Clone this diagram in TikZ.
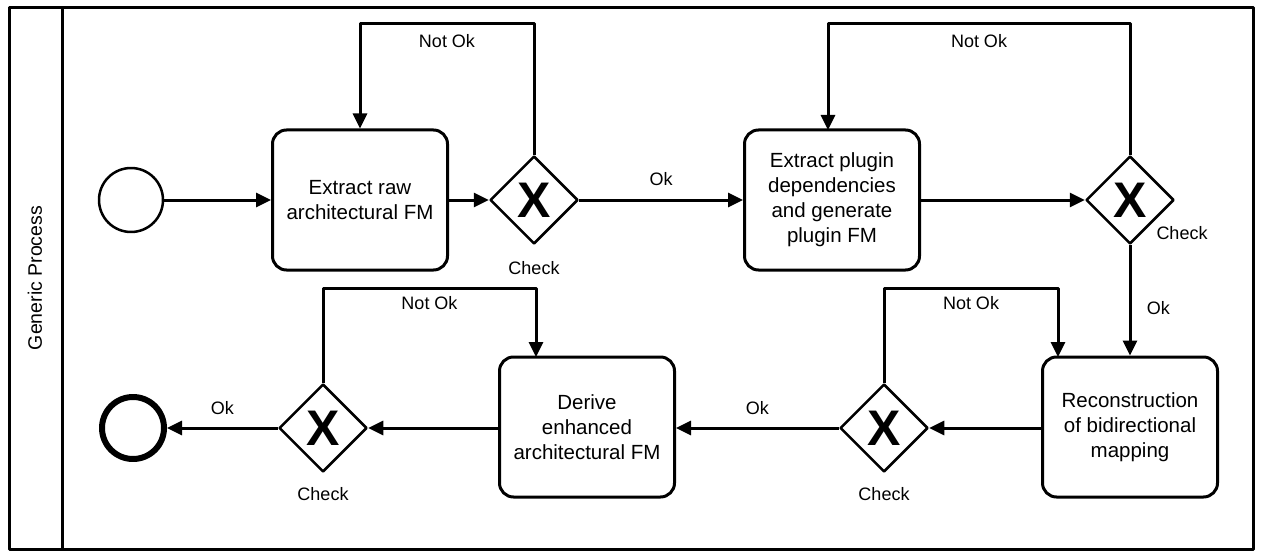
\documentclass[tikz,border=0pt]{standalone}
\usepackage{fontspec}
\setmainfont{Liberation Sans}
\usetikzlibrary{shapes.geometric,arrows.meta}
\begin{document}
\begin{tikzpicture}[x=1pt,y=-1pt,line join=round,
	flow/.style={line width=3pt,-{Triangle[length=15pt,width=14pt]}},
	task/.style={draw,line width=3pt,rounded corners=14pt,minimum width=175pt,minimum height=140pt,align=center,font=\fontsize{20.5}{25}\selectfont},
	gate/.style={draw,diamond,line width=2.5pt,minimum width=88pt,minimum height=88pt,inner sep=0pt,font=\fontsize{50}{50}\selectfont\bfseries},
	event/.style={draw,circle,line width=2.5pt,minimum size=64pt,inner sep=0pt},
	lbl/.style={font=\fontsize{18}{20}\selectfont}]
	\useasboundingbox (0,0) rectangle (1264,559);
	% pool
	\draw[line width=3pt] (9,8) rectangle (1253,549);
	\draw[line width=3pt] (62,8)--(62,549);
	\node[rotate=90,font=\fontsize{19.5}{20}\selectfont] (pool) at (35,278) {Generic Process};
	% events, tasks, gateways
	\node[event] (start) at (131,200) {};
	\node[task] (raw) at (360,200) {Extract raw\\architectural FM};
	\node[gate] (g1) at (534,200) {X};
	\node[task] (plug) at (832,200) {Extract plugin\\dependencies\\and generate\\plugin FM};
	\node[gate] (g2) at (1130,200) {X};
	\node[task] (rec) at (1130,427) {Reconstruction\\of bidirectional\\mapping};
	\node[gate] (g3) at (884,428) {X};
	\node[task] (der) at (587,427) {Derive\\enhanced\\architectural FM};
	\node[gate] (g4) at (323,428) {X};
	\node[event,line width=6pt,minimum size=62pt] (stop) at (133,428) {};
	% labels
	\node[lbl] (c1) at (534,268) {Check};
	\node[lbl] (c2) at (1182,233) {Check};
	\node[lbl] (c3) at (884,494) {Check};
	\node[lbl] (c4) at (323,494) {Check};
	% sequence flows
	\draw[flow] (start)--(raw);
	\draw[flow] (raw)--(g1);
	\draw[flow] (g1)--node[lbl,above=9pt]{Ok}(plug);
	\draw[flow] (plug)--(g2);
	\draw[flow] (g2)--node[lbl,right=12pt,pos=.57]{Ok}(rec);
	\draw[flow] (rec.west|-g3)--(g3);
	\draw[flow] (g3)--node[lbl,above=8pt]{Ok}(der.east|-g3);
	\draw[flow] (der.west|-g4)--(g4);
	\draw[flow] (g4)--node[lbl,above=8pt]{Ok}(stop);
	% loops back
	\draw[flow] (g1.north)--(534,24)--node[lbl,below=6pt,pos=.5]{Not Ok}(360,24)--(raw.north);
	\draw[flow] (g2.north)--(1130,24)--node[lbl,below=6pt]{Not Ok}(828,24)--(828,130);
	\draw[flow] (g3.north)--(884,288)--node[lbl,below=4pt]{Not Ok}(1058,288)--(1058,357);
	\draw[flow] (g4.north)--(323,288)--node[lbl,below=4pt]{Not Ok}(536,288)--(536,357);
\end{tikzpicture}
\end{document}
